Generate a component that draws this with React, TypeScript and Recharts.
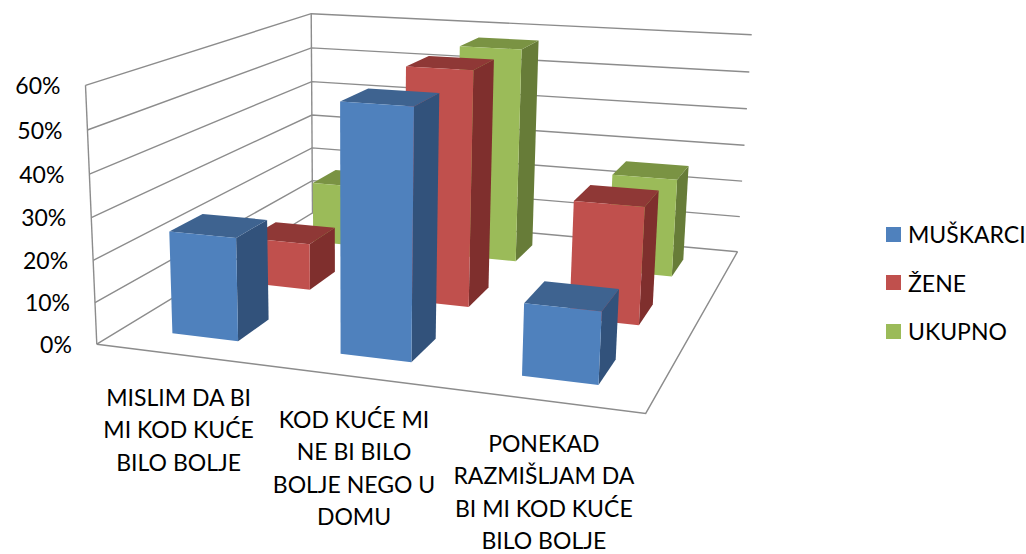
import { BarChart, Bar, XAxis, YAxis, CartesianGrid, Legend } from "recharts";

const categories = [
  "MISLIM DA BI\nMI KOD KUĆE\nBILO BOLJE",
  "KOD KUĆE MI\nNE BI BILO\nBOLJE NEGO U\nDOMU",
  "PONEKAD\nRAZMIŠLJAM DA\nBI MI KOD KUĆE\nBILO BOLJE",
];
const muskarci = [24.7, 57.6, 16.5];
const zene = [12, 58.7, 29];
const ukupno = [17, 57.5, 26];
const yTicks = [0, 10, 20, 30, 40, 50, 60];

const data = categories.map((name, i) => ({
  name,
  muskarci: muskarci[i],
  zene: zene[i],
  ukupno: ukupno[i],
}));

const W = 1026;
const H = 554;
const M = 100; // plot margin, the plot is only the flat space that gets projected
const FONT = "Lato, sans-serif";
const GRID = "#8c8c8c";

// drawn back row first, row = depth slot on the floor
const series = [
  { key: "ukupno", name: "UKUPNO", row: 2, front: "#9BBB59", side: "#677C38", top: "#7A9343" },
  { key: "zene", name: "ŽENE", row: 1, front: "#C0504D", side: "#7F2F2D", top: "#8F3836" },
  { key: "muskarci", name: "MUŠKARCI", row: 0, front: "#4F81BD", side: "#32527B", top: "#3E6390" },
];

// camera calibration: cube corner -> where it lands on the page
const corners = [
  [0, 0, 0, 98, 343],
  [1, 0, 0, 646, 414],
  [1, 0, 1, 738, 251],
  [0, 0, 1, 311, 214],
  [0, 1, 0, 84, 86],
  [0, 1, 1, 313, 13],
  [1, 1, 1, 751, 35],
];

function solveCamera() {
  const rows: number[][] = [];
  corners.forEach(([X, Y, Z, u, v]) => {
    rows.push([X, Y, Z, 1, 0, 0, 0, 0, -u * X, -u * Y, -u * Z, u]);
    rows.push([0, 0, 0, 0, X, Y, Z, 1, -v * X, -v * Y, -v * Z, v]);
  });
  const n = 11;
  const a = Array.from({ length: n }, (_, i) =>
    Array.from({ length: n + 1 }, (_, j) => rows.reduce((s, r) => s + r[i] * r[j], 0))
  );
  for (let c = 0; c < n; c++) {
    let p = c;
    for (let r = c + 1; r < n; r++) if (Math.abs(a[r][c]) > Math.abs(a[p][c])) p = r;
    [a[c], a[p]] = [a[p], a[c]];
    for (let r = 0; r < n; r++) {
      if (r === c) continue;
      const f = a[r][c] / a[c][c];
      for (let k = c; k <= n; k++) a[r][k] -= f * a[c][k];
    }
  }
  return a.map((r, i) => r[n] / r[i]);
}
const cam = solveCamera();

function project(X: number, Y: number, Z: number) {
  const d = cam[8] * X + cam[9] * Y + cam[10] * Z + 1;
  return [
    (cam[0] * X + cam[1] * Y + cam[2] * Z + cam[3]) / d,
    (cam[4] * X + cam[5] * Y + cam[6] * Z + cam[7]) / d,
  ];
}
const pts = (list: number[][]) =>
  list.map((p) => project(p[0], p[1], p[2]).map((c) => c.toFixed(1)).join(",")).join(" ");

const toX = (px: number) => (px - M) / (W - 2 * M);
const toY = (py: number) => 1 - (py - M) / (H - 2 * M);

function Bar3D(props: any) {
  const { x, y, width, height, s } = props;
  const x0 = toX(x);
  const x1 = toX(x + width);
  const top = toY(y);
  const bottom = toY(y + height);
  const z0 = (s.row + 0.3) / 3;
  const z1 = (s.row + 0.7) / 3;
  return (
    <g>
      <polygon fill={s.side} points={pts([[x1, bottom, z0], [x1, bottom, z1], [x1, top, z1], [x1, top, z0]])} />
      <polygon fill={s.top} points={pts([[x0, top, z0], [x1, top, z0], [x1, top, z1], [x0, top, z1]])} />
      <polygon fill={s.front} points={pts([[x0, bottom, z0], [x1, bottom, z0], [x1, top, z0], [x0, top, z0]])} />
    </g>
  );
}

function WallLine(props: any) {
  const Y = toY(props.y1);
  const line = { fill: "none", stroke: GRID, strokeWidth: 1.4 };
  return (
    <g key={props.key ?? Y}>
      <polyline {...line} points={pts([[0, Y, 0], [0, Y, 1], [1, Y, 1]])} />
      {Y < 0.001 && (
        <>
          <polyline {...line} points={pts([[0, 0, 0], [1, 0, 0], [1, 0, 1]])} />
          <polyline {...line} points={pts([[0, 0, 0], [0, 1, 0]])} />
          <polyline {...line} points={pts([[0, 0, 1], [0, 1, 1]])} />
        </>
      )}
    </g>
  );
}

function ValueTick(props: any) {
  const [px, py] = project(0, toY(props.y), 0);
  return (
    <text x={px - 25} y={py + 8.5} textAnchor="end" fontFamily={FONT} fontSize={23} fill="#000">
      {props.payload.value}%
    </text>
  );
}

function CategoryTick(props: any) {
  const [px, py] = project(toX(props.x), 0, 0);
  return (
    <text textAnchor="middle" fontFamily={FONT} fontSize={23} fill="#000">
      {String(props.payload.value)
        .split("\n")
        .map((line, k) => (
          <tspan key={k} x={px - 1} y={py + 51 + k * 32.5}>
            {line}
          </tspan>
        ))}
    </text>
  );
}

function LegendBox() {
  return (
    <div style={{ fontFamily: FONT, fontSize: 23, color: "#000", whiteSpace: "nowrap" }}>
      {[...series].reverse().map((s) => (
        <div key={s.key} style={{ display: "flex", alignItems: "center", height: 48.5 }}>
          <span style={{ width: 15, height: 15, background: s.front, marginRight: 7 }} />
          {s.name}
        </div>
      ))}
    </div>
  );
}

export default function App() {
  return (
    <div style={{ position: "absolute", left: 0, top: 0, width: W, height: H, background: "#fff" }}>
      <BarChart
        width={W}
        height={H}
        data={data}
        margin={{ top: M, right: M, bottom: M - 1, left: M - 1 }}
        barCategoryGap="30%"
      >
        <CartesianGrid vertical={false} horizontal={(p: any) => <WallLine {...p} />} />
        <YAxis
          width={1}
          domain={[0, 60]}
          ticks={yTicks}
          interval={0}
          axisLine={false}
          tickLine={false}
          tick={(p: any) => <ValueTick {...p} />}
        />
        {series.map((s, i) => (
          <XAxis
            key={s.key}
            xAxisId={s.key}
            dataKey="name"
            height={1}
            hide={i !== 0}
            interval={0}
            axisLine={false}
            tickLine={false}
            tick={(p: any) => <CategoryTick {...p} />}
          />
        ))}
        {series.map((s) => (
          <Bar
            key={s.key}
            xAxisId={s.key}
            dataKey={s.key}
            name={s.name}
            isAnimationActive={false}
            shape={(p: any) => <Bar3D {...p} s={s} />}
          />
        ))}
        <Legend
          layout="horizontal"
          verticalAlign="middle"
          align="center"
          wrapperStyle={{ left: 886, top: 210, width: 140 }}
          content={() => <LegendBox />}
        />
      </BarChart>
    </div>
  );
}
